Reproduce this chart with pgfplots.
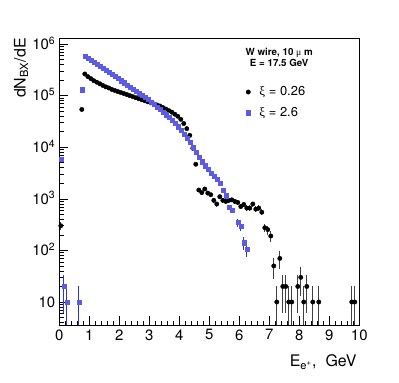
\documentclass[border=0pt]{standalone}
\usepackage{pgfplots}
\pgfplotsset{compat=1.18}
\usepackage{pgfplotstable}
\usepackage{fontspec}
\setmainfont{TeX Gyre Heros}
\newfontfamily\symf{Liberation Serif}
\definecolor{markblue}{HTML}{5B5BE6}
\definecolor{barblue}{HTML}{2F2FE8}

% xi = 0.26
\pgfplotstableread{
x y ep em
0.05 300 55 55
0.75 54000 0 0
0.85 263000 0 0
0.95 234000 0 0
1.05 214000 0 0
1.15 195000 0 0
1.25 182000 0 0
1.35 170000 0 0
1.45 158000 0 0
1.55 148000 0 0
1.65 141000 0 0
1.75 132000 0 0
1.85 126000 0 0
1.95 120000 0 0
2.05 115000 0 0
2.15 110000 0 0
2.25 105000 0 0
2.35 100000 0 0
2.45 95500 0 0
2.55 91200 0 0
2.65 87100 0 0
2.75 83200 0 0
2.85 79400 0 0
2.95 75900 0 0
3.05 72400 0 0
3.15 69200 0 0
3.25 66100 0 0
3.35 63100 0 0
3.45 58900 0 0
3.55 55000 0 0
3.65 51300 0 0
3.75 47900 0 0
3.85 43700 0 0
3.95 39800 0 0
4.05 34700 0 0
4.15 28800 0 0
4.25 22900 0 0
4.35 17000 0 0
4.45 9550 0 0
4.55 4680 0 0
4.65 1480 122 122
4.75 1320 115 115
4.85 1550 124 124
4.95 1290 114 114
5.05 1200 110 110
5.15 933 97 97
5.25 794 89 89
5.35 1100 105 105
5.45 933 97 97
5.55 891 94 94
5.65 933 97 97
5.75 955 98 98
5.85 891 94 94
5.95 851 92 92
6.05 708 84 84
6.15 776 88 88
6.25 661 81 81
6.35 661 81 81
6.45 794 89 89
6.55 631 79 79
6.65 661 81 81
6.75 550 74 74
6.85 275 52 52
6.95 253 50 50
7.05 190 44 44
7.15 50 22 22
7.25 10 10 9.9
7.35 70 26 26
7.45 20 14 14
7.55 20 14 14
7.65 10 10 9.9
7.75 10 10 9.9
7.95 20 14 14
8.05 30 17 17
8.15 10 10 9.9
8.25 20 14 14
8.45 10 10 9.9
8.65 10 10 9.9
9.75 10 10 9.9
9.85 10 10 9.9
}\tabA

% xi = 2.6
\pgfplotstableread{
x y ep em
0.05 5900 0 0
0.15 20 14 14
0.25 10 10 9.9
0.65 10 10 9.9
0.75 130000 0 0
0.85 589000 0 0
0.95 537000 0 0
1.05 490000 0 0
1.15 447000 0 0
1.25 407000 0 0
1.35 372000 0 0
1.45 339000 0 0
1.55 309000 0 0
1.65 282000 0 0
1.75 257000 0 0
1.85 234000 0 0
1.95 214000 0 0
2.05 195000 0 0
2.15 178000 0 0
2.25 162000 0 0
2.35 148000 0 0
2.45 135000 0 0
2.55 123000 0 0
2.65 112000 0 0
2.75 102000 0 0
2.85 93300 0 0
2.95 85100 0 0
3.05 75900 0 0
3.15 67600 0 0
3.25 60300 0 0
3.35 53700 0 0
3.45 47900 0 0
3.55 42700 0 0
3.65 38000 0 0
3.75 33100 0 0
3.85 28800 0 0
3.95 25100 0 0
4.05 21400 0 0
4.15 17800 0 0
4.25 14800 0 0
4.35 12300 0 0
4.45 10000 0 0
4.55 7940 0 0
4.65 6310 0 0
4.75 5250 0 0
4.85 4370 0 0
4.95 3720 0 0
5.05 3160 0 0
5.15 2750 0 0
5.25 2400 0 0
5.35 2000 141 141
5.45 1480 122 122
5.55 1150 107 107
5.65 676 82 82
5.75 603 78 78
5.95 347 59 59
6.05 295 54 54
6.15 141 38 38
6.25 105 32 32
}\tabB

\begin{document}
\begin{tikzpicture}
\begin{axis}[
  at={(59.3bp,58bp)}, anchor=south west, scale only axis,
  width=300bp, height=287bp,
  xmin=0, xmax=10, ymode=log, ymin=3.58, ymax=1.31e6,
  axis line style={line width=0.8bp},
  tick align=inside, xtick pos=bottom, ytick pos=left,
  major tick length=9bp, minor tick length=4.5bp,
  every tick/.style={black, line width=0.6bp},
  xtick={0,1,2,3,4,5,6,7,8,9,10},
  xticklabels={0,1,2,3,4,5,6,7,8,9,10},
  minor x tick num=4,
  ytick={10,100,1000,10000,100000,1000000},
  yticklabels={10,10\textsuperscript{2},10\textsuperscript{3},10\textsuperscript{4},10\textsuperscript{5},10\textsuperscript{6}},
  minor ytick={4,5,6,7,8,9,20,30,40,50,60,70,80,90,200,300,400,500,600,700,800,900,
    2000,3000,4000,5000,6000,7000,8000,9000,20000,30000,40000,50000,60000,70000,80000,90000,
    200000,300000,400000,500000,600000,700000,800000,900000},
  ticklabel style={font=\fontsize{15}{18}\selectfont},
  xticklabel style={yshift=-1bp},
  yticklabel style={anchor=base east, yshift=-5.3bp, xshift=-0.5bp},
  xlabel={E\textsubscript{e\textsuperscript{+}},\ \ GeV},
  xlabel style={at={(axis description cs:0.9915,-0.145)}, anchor=base east, inner sep=0pt, font=\fontsize{16}{19}\selectfont},
  ylabel={dN\textsubscript{BX}/dE},
  ylabel style={at={(axis description cs:-0.103,1)}, anchor=south east, inner sep=0pt, font=\fontsize{16}{19}\selectfont},
  legend style={at={(axis description cs:0.622,0.838)}, anchor=north west, draw=none, fill=none,
    font=\fontsize{13}{15}\selectfont, row sep=6bp, column sep=7bp, inner sep=0pt},
  legend cell align=left,
]
\addplot[only marks, mark=*, black, mark size=2.2bp,
  error bars/.cd, y dir=both, y explicit, error mark=none,
  error bar style={black!75, line width=0.8bp}]
  table[x=x, y=y, y error plus=ep, y error minus=em] {\tabA};
\addlegendentry{{\symf ξ} = 0.26}
\addplot[only marks, mark=square*, markblue, mark size=2.1bp,
  error bars/.cd, y dir=both, y explicit, error mark=none,
  error bar style={barblue, line width=0.8bp}]
  table[x=x, y=y, y error plus=ep, y error minus=em] {\tabB};
\addlegendentry{{\symf ξ} = 2.6}
\node[align=center, font=\bfseries\fontsize{9.8}{11.3}\selectfont, inner sep=0pt]
  at (axis description cs:0.733,0.932) {W wire, 10 {\mdseries\symf μ} m\\E = 17.5 GeV};
\end{axis}
\pgfresetboundingbox
\path[use as bounding box] (0,0) rectangle (399bp,383bp);
\end{tikzpicture}
\end{document}
